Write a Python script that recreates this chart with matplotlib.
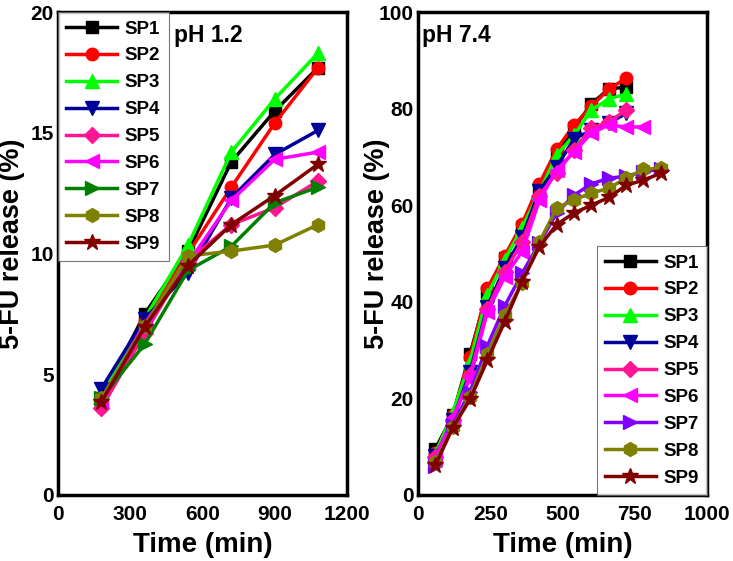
import matplotlib
matplotlib.use("Agg")
import matplotlib.pyplot as plt

# ---------------- data ----------------
labels = ["SP1", "SP2", "SP3", "SP4", "SP5", "SP6", "SP7", "SP8", "SP9"]

t_acid = [180, 360, 540, 720, 900, 1080]
acid_sp1 = [4.0, 7.5, 10.1, 13.8, 15.9, 17.7]
acid_sp2 = [3.9, 7.2, 10.0, 12.75, 15.4, 17.7]
acid_sp3 = [4.1, 7.3, 10.35, 14.2, 16.4, 18.3]
acid_sp4 = [4.4, 7.3, 9.2, 12.3, 14.1, 15.1]
acid_sp5 = [3.6, 6.7, 9.7, 11.2, 11.9, 13.0]
acid_sp6 = [3.9, 7.1, 9.6, 12.2, 13.9, 14.2]
acid_sp7 = [4.0, 6.25, 9.3, 10.3, 12.1, 12.75]
acid_sp8 = [4.0, 7.0, 9.9, 10.1, 10.35, 11.2]
acid_sp9 = [3.85, 6.96, 9.5, 11.2, 12.4, 13.7]

t_b12 = [60, 120, 180, 240, 300, 360, 420, 480, 540, 600, 660, 720]
t_b13 = t_b12 + [780]
t_b14 = t_b13 + [840]
base_sp1 = [9.5, 16.5, 29.2, 42.0, 49.0, 55.5, 63.5, 70.5, 76.0, 81.0, 84.0, 84.5]
base_sp2 = [8.7, 16.5, 28.6, 42.8, 49.5, 56.1, 64.4, 71.6, 76.6, 80.5, 84.0, 86.3]
base_sp3 = [8.5, 17.0, 27.6, 41.4, 48.7, 55.3, 62.7, 70.4, 74.5, 79.7, 82.0, 83.0]
base_sp4 = [8.0, 15.5, 25.5, 39.0, 47.0, 53.4, 63.0, 68.0, 73.7, 75.5, 77.0, 79.0]
base_sp5 = [7.8, 15.5, 24.8, 38.5, 46.2, 52.4, 62.0, 66.7, 71.4, 76.0, 77.2, 79.7]
base_sp6 = [7.6, 15.9, 24.2, 37.9, 45.2, 50.4, 61.0, 67.3, 71.0, 74.9, 76.6, 76.2, 76.2]
base_sp7 = [6.0, 14.5, 21.4, 30.9, 39.1, 45.9, 52.1, 58.4, 62.1, 64.4, 65.6, 66.0, 66.9, 67.5]
base_sp8 = [6.8, 14.0, 20.3, 29.2, 37.3, 43.9, 52.4, 59.4, 61.1, 62.5, 63.5, 65.6, 67.4, 67.7]
base_sp9 = [6.2, 13.9, 19.8, 27.9, 35.9, 44.2, 51.4, 56.0, 58.4, 60.0, 61.6, 64.1, 65.2, 66.6]

acid_series = [acid_sp1, acid_sp2, acid_sp3, acid_sp4, acid_sp5, acid_sp6, acid_sp7, acid_sp8, acid_sp9]
base_series = [base_sp1, base_sp2, base_sp3, base_sp4, base_sp5, base_sp6, base_sp7, base_sp8, base_sp9]
base_times = [t_b12] * 5 + [t_b13] + [t_b14] * 3

markers = ["s", "o", "^", "v", "D", "<", ">", "h", "*"]
acid_colors = ["#000000", "#ff0000", "#00ff00", "#000099", "#ff1493",
               "#ff00ff", "#008000", "#808000", "#800000"]
base_colors = ["#000000", "#ff0000", "#00ff00", "#000099", "#ff1493",
               "#ff00ff", "#7f00ff", "#808000", "#800000"]
msizes = [8, 9, 10, 10, 8, 10, 10, 10, 12]

arial = ["Liberation Sans", "DejaVu Sans"]

fig = plt.figure(figsize=(7.33, 5.61), dpi=100)
ax1 = fig.add_axes([58 / 733, 66 / 561, 289 / 733, 483 / 561])
ax2 = fig.add_axes([418 / 733, 66 / 561, 289 / 733, 483 / 561])


def style(ax, xlim, ylim, xticks, yticks, ylab_x):
    ax.set_xlim(*xlim)
    ax.set_ylim(*ylim)
    ax.set_xticks(xticks)
    ax.set_yticks(yticks)
    for s in ax.spines.values():
        s.set_linewidth(2.5)
    ax.tick_params(axis="y", length=0, pad=3)
    ax.tick_params(axis="x", length=0, pad=7)
    for lab in ax.get_xticklabels() + ax.get_yticklabels():
        lab.set_family(arial)
        lab.set_fontweight("bold")
        lab.set_fontsize(15)
    ax.set_xlabel("Time (min)", family=arial, fontweight="bold", fontsize=20, labelpad=6)
    ax.set_ylabel("5-FU release (%)", family=arial, fontweight="bold", fontsize=19.5)
    ax.yaxis.set_label_coords(ylab_x, 0.52)


def legend(ax, loc):
    leg = ax.legend(loc=loc, borderaxespad=0, frameon=True, fancybox=False,
                    edgecolor="#555555", handlelength=2.7, labelspacing=0.52,
                    prop={"family": arial, "weight": "bold", "size": 13.5},
                    borderpad=0.45, handletextpad=0.4)
    leg.get_frame().set_linewidth(0.8)
    return leg


for ys, c, m, ms, lab in zip(acid_series, acid_colors, markers, msizes, labels):
    ax1.plot(t_acid, ys, color=c, marker=m, markersize=ms, linewidth=2.5, label=lab)
style(ax1, (0, 1200), (0, 20), [0, 300, 600, 900, 1200], [0, 5, 10, 15, 20], -0.114)
ax1.text(0.40, 0.975, "pH 1.2", transform=ax1.transAxes, ha="left", va="top",
         family=arial, fontweight="bold", fontsize=16.5)
legend(ax1, "upper left")

for ts, ys, c, m, ms, lab in zip(base_times, base_series, base_colors, markers, msizes, labels):
    ax2.plot(ts, ys, color=c, marker=m, markersize=ms, linewidth=2.5, label=lab)
style(ax2, (0, 1000), (0, 100), [0, 250, 500, 750, 1000], [0, 20, 40, 60, 80, 100], -0.097)
ax2.text(0.015, 0.975, "pH 7.4", transform=ax2.transAxes, ha="left", va="top",
         family=arial, fontweight="bold", fontsize=16.5)
legend(ax2, "lower right")

fig.savefig("out.png", dpi=100)
